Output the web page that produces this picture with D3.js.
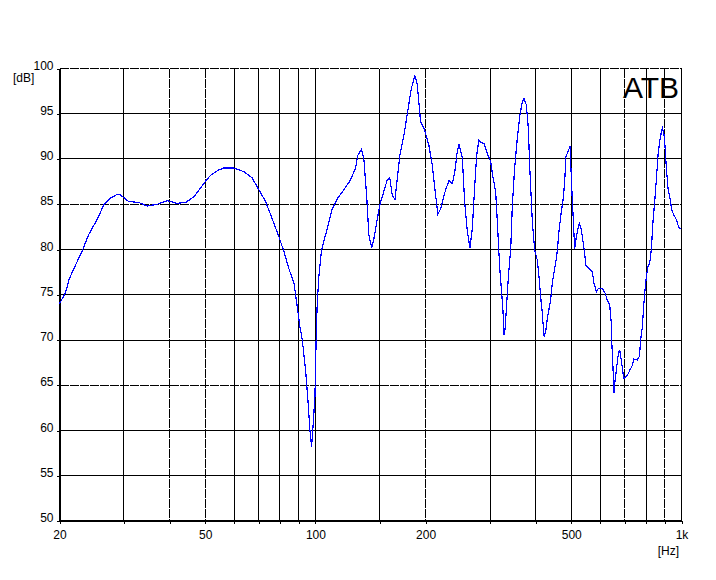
<!DOCTYPE html>
<html>
<head>
<meta charset="utf-8">
<script src="https://cdn.jsdelivr.net/npm/d3@7"></script>
<style>
    body { margin: 0; background: #fff; }
    svg text { font-family: "Liberation Sans", Arial, sans-serif; font-size: 12px; fill: #000; }
    .axis path { display: none; }
    .axis line { stroke: #000; shape-rendering: crispEdges; }
    line { shape-rendering: crispEdges; }
</style>
</head>
<body>
<div id="graph"></div>
<script>
var freq = [20.0, 20.8, 21.2, 21.9, 22.8, 23.1, 24.0, 25.4, 26.4, 27.6, 28.8, 29.4, 30.9, 32.9, 34.7, 37.0, 39.4,
    41.9, 44.2, 46.5, 49.6, 51.7, 54.5, 56.2, 59.9, 63.8, 67.2, 70.1, 73.1, 76.2, 79.5, 82.0, 84.6, 87.4, 89.2,
    90.7, 92.1, 94.0, 95.4, 96.6, 97.6, 98.4, 99.7, 100.1, 100.6, 101.2, 102.2, 103.9, 107.7, 111.2, 114.7,
    119.6, 124.8, 128.7, 130.6, 133.7, 135.7, 138.0, 140.0, 142.4, 144.5, 147.6, 150.7, 153.8, 157.1, 159.7,
    162.2, 164.9, 167.4, 170.1, 174.4, 178.3, 182.8, 187.0, 189.8, 193.8, 198.8, 204.2, 208.6, 212.0, 216.1,
    219.8, 226.8, 231.6, 236.6, 240.0, 244.2, 246.6, 252.0, 255.6, 260.0, 264.3, 268.3, 272.2, 275.7, 279.7,
    284.0, 288.7, 294.9, 301.1, 305.5, 310.7, 314.0, 317.2, 319.2, 322.7, 325.3, 327.3, 329.4, 332.3, 335.7,
    339.3, 341.4, 345.1, 350.1, 356.1, 362.0, 367.5, 371.2, 376.8, 381.6, 385.5, 391.3, 397.0, 403.9, 408.0,
    412.3, 416.8, 421.0, 425.5, 430.1, 439.1, 443.9, 453.2, 458.0, 462.7, 469.7, 475.6, 479.6, 483.5, 489.6,
    495.9, 500.2, 503.4, 506.6, 510.7, 516.2, 521.4, 526.0, 532.7, 538.1, 543.9, 547.4, 558.8, 570.9, 576.6,
    585.4, 592.9, 608.0, 618.0, 627.3, 636.5, 643.4, 644.6, 649.9, 654.0, 658.1, 663.9, 672.3, 677.8, 683.4,
    689.4, 695.1, 700.8, 711.5, 723.3, 734.3, 741.7, 757.7, 767.3, 773.5, 782.0, 786.9, 793.4, 801.9, 810.1,
    818.7, 827.6, 835.8, 844.8, 855.4, 862.6, 871.8, 881.1, 886.6, 895.7, 901.3, 909.2, 918.4, 930.0, 939.9,
    953.7, 968.3, 978.0, 988.6, 999.2];
var spl = [74.0, 75.3, 76.6, 77.9, 79.4, 79.9, 81.6, 83.4, 84.9, 85.7, 86.1, 86.0, 85.3, 85.2, 84.8, 85.0, 85.4,
    85.1, 85.2, 85.8, 87.3, 88.2, 88.8, 89.0, 89.0, 88.6, 87.9, 86.6, 85.3, 83.4, 81.4, 79.8, 77.9, 76.3, 73.7,
    71.5, 70.0, 66.7, 63.4, 60.1, 58.2, 60.1, 63.7, 67.0, 71.1, 74.2, 77.0, 79.9, 82.3, 84.5, 85.6,
    86.6, 87.7, 89.0, 90.4, 91.1, 89.9, 86.0, 81.6, 80.2, 81.2, 83.4, 85.3, 86.4, 87.7, 87.9,
    86.0, 85.5, 87.9, 90.4, 92.6, 95.0, 97.8, 99.2, 98.2, 94.1, 93.2, 91.5, 89.3, 86.7, 83.9,
    84.5, 86.6, 87.6, 87.3, 88.4, 90.9, 91.6, 90.1, 85.3, 82.0, 80.2, 82.3, 86.8, 90.4, 92.1,
    91.8, 91.7, 90.6, 89.7, 88.0, 86.4, 83.1, 79.6, 77.7, 75.2, 73.3, 70.6, 71.1, 73.3, 76.3,
    78.8, 79.8, 84.9, 89.0, 92.3, 94.9, 96.3, 96.7, 96.0, 93.4, 88.6, 83.1, 80.0, 78.8, 77.0,
    74.8, 72.9, 70.4, 70.9, 72.4, 74.4, 76.4, 78.5, 79.9, 82.0, 84.2, 85.7, 87.5, 90.3, 90.8,
    91.4, 87.9, 85.3, 83.1, 80.1, 81.4, 82.3, 82.9, 82.2, 80.9, 79.6, 78.3, 77.9, 77.5, 76.3,
    75.3, 75.7, 75.7, 75.2, 74.4, 73.9, 71.8, 70.0, 67.0, 64.1, 65.4, 66.7, 68.5, 68.9, 68.0,
    66.9, 65.8, 65.8, 66.1, 66.7, 67.2, 67.9, 67.8, 68.2, 70.0, 71.5, 73.3, 75.2, 77.0, 78.1,
    78.5, 80.1, 83.1, 85.3, 88.2, 90.4, 91.9, 93.0, 93.4, 92.7, 91.5, 89.0, 86.8, 85.7, 84.4,
    83.8, 83.3, 82.7, 82.3, 82.4];

var xGrid = [30, 40, 50, 60, 70, 80, 90, 100, 150, 200, 300, 400, 500, 600, 700, 800, 900];
var xLabels = {20: "20", 50: "50", 100: "100", 200: "200", 500: "500", 1000: "1k"};
var yTicks = [50, 55, 60, 65, 70, 75, 80, 85, 90, 95, 100];
var dashedX = [40, 50, 200, 700, 900];
var dashedY = [65, 85];

var margin = {top: 68.5, left: 59.5, right: 35, bottom: 59};
var width = 681 - 59;
var height = 521 - 68.5;

var svg = d3.select("#graph").append("svg")
    .attr("width", 716)
    .attr("height", 580);

var g = svg.append("g").attr("transform", "translate(" + margin.left + "," + margin.top + ")");

var x = d3.scaleLog().domain([20, 1000]).range([0, width]);
var y = d3.scaleLinear().domain([50, 100]).range([height, 0]);

// grid
g.selectAll(".vgrid").data(xGrid).enter().append("line")
    .attr("x1", function (d) { return Math.round(x(d)); })
    .attr("x2", function (d) { return Math.round(x(d)); })
    .attr("y1", 0).attr("y2", height)
    .attr("stroke", "#000")
    .attr("stroke-dasharray", function (d) { return dashedX.indexOf(d) >= 0 ? "9,1" : null; });

g.selectAll(".hgrid").data(yTicks.slice(1, -1)).enter().append("line")
    .attr("x1", 0).attr("x2", width)
    .attr("y1", function (d) { return Math.round(y(d)); })
    .attr("y2", function (d) { return Math.round(y(d)); })
    .attr("stroke", "#000")
    .attr("stroke-dasharray", function (d) { return dashedY.indexOf(d) >= 0 ? "9,1" : null; });

// frame
g.append("line").attr("x1", 0).attr("x2", width).attr("y1", 0).attr("y2", 0)
    .attr("stroke", "#000").attr("stroke-dasharray", "9,1");
g.append("line").attr("x1", width).attr("x2", width).attr("y1", 0).attr("y2", height)
    .attr("stroke", "#000");

// axes
var xAxis = d3.axisBottom(x)
    .tickValues([20].concat(xGrid).concat([1000]))
    .tickSize(3)
    .tickPadding(6)
    .tickFormat(function (d) { return xLabels[d] || ""; });

g.append("g").attr("class", "x axis")
    .attr("transform", "translate(0," + height + ")")
    .call(xAxis);

var yAxis = d3.axisLeft(y)
    .tickValues(yTicks)
    .tickSize(3)
    .tickPadding(3)
    .tickFormat(d3.format("d"));

g.append("g").attr("class", "y axis")
    .call(yAxis)
    .selectAll("text").attr("dy", "0.05em");

// thick left and bottom axis lines
g.append("line").attr("x1", 0).attr("x2", 0).attr("y1", 0).attr("y2", height + 1)
    .attr("stroke", "#000").attr("stroke-width", 2);
g.append("line").attr("x1", -1).attr("x2", width).attr("y1", height).attr("y2", height)
    .attr("stroke", "#000").attr("stroke-width", 2);

// response curve
var points = freq.map(function (f, i) { return {f: f, v: spl[i]}; });
var line = d3.line()
    .x(function (d) { return x(d.f); })
    .y(function (d) { return y(d.v); });

g.append("path").datum(points)
    .attr("d", line)
    .attr("fill", "none")
    .attr("stroke", "#0000ff")
    .attr("stroke-width", 1.2)
    .style("shape-rendering", "crispEdges");

// labels
svg.append("text").attr("x", 13).attr("y", 82).text("[dB]");
svg.append("text").attr("x", 679).attr("y", 555).attr("text-anchor", "end").text("[Hz]");
svg.append("text").attr("x", 679).attr("y", 98).attr("text-anchor", "end")
    .style("font-size", "30px").text("ATB");
</script>
</body>
</html>
